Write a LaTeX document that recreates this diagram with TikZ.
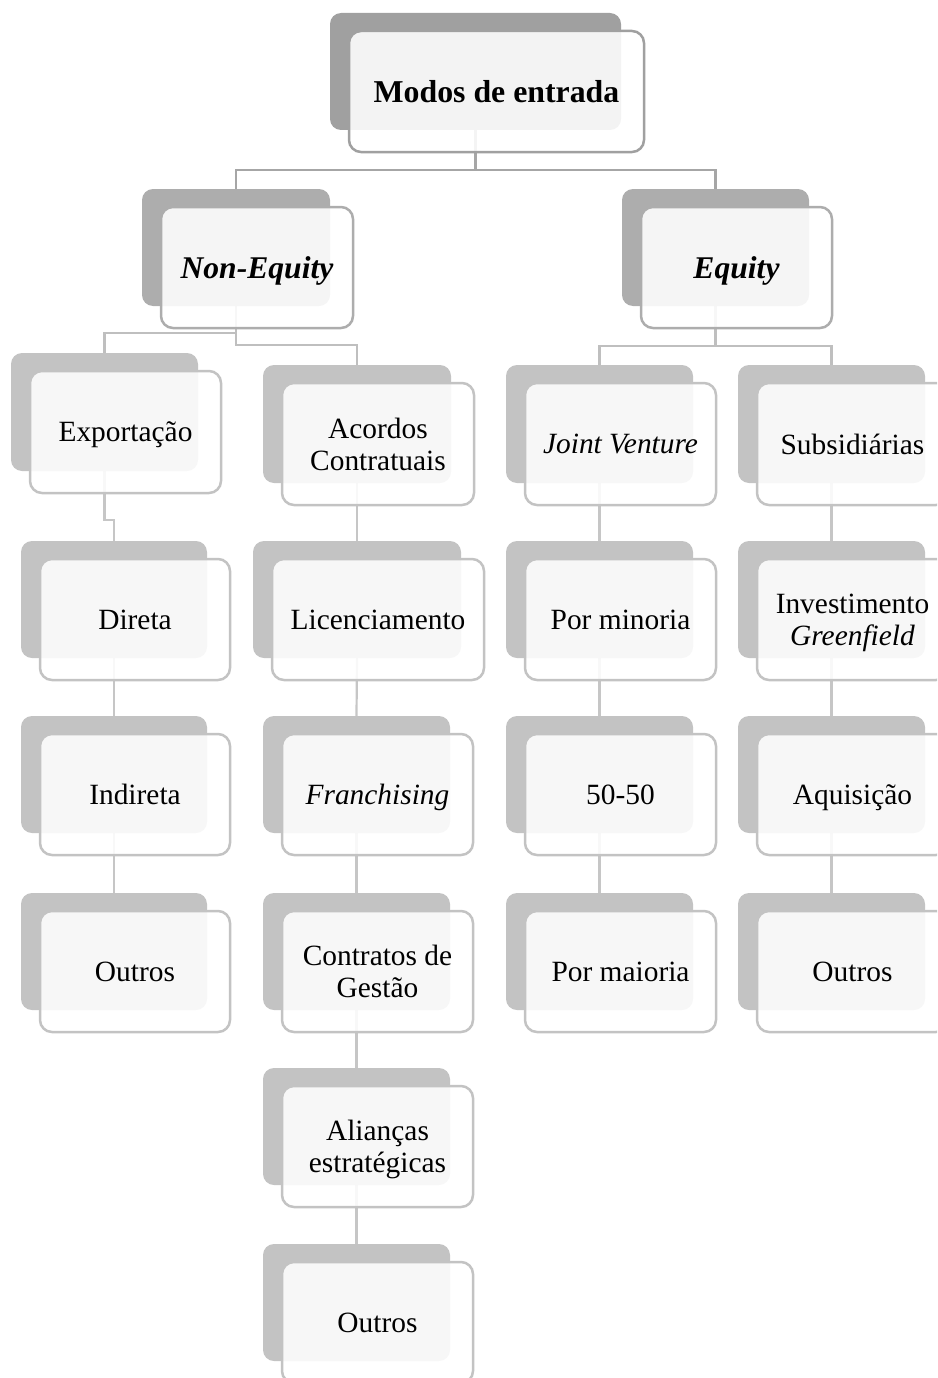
\documentclass[tikz,border=0pt]{standalone}
\usepackage{fontspec}
\setmainfont{Liberation Serif}
\pgfdeclarelayer{background}
\pgfsetlayers{background,main}
\definecolor{gA}{HTML}{A0A0A0}
\definecolor{gB}{HTML}{ADADAD}
\definecolor{gC}{HTML}{C3C3C3}
\definecolor{lnA}{HTML}{A6A6A6}
\definecolor{lnB}{HTML}{BFBFBF}
\definecolor{lnC}{HTML}{C6C6C6}
\tikzset{
  backbox/.style={rounded corners=11pt, inner sep=0pt, outer sep=0pt, draw=none, anchor=north west},
  frontbox/.style={rounded corners=12pt, inner sep=0pt, outer sep=0pt, fill=white, fill opacity=0.88, text opacity=1, line width=2.5pt, align=center, text depth=0pt, anchor=north west},
  backA/.style={backbox, fill=gA},
  backB/.style={backbox, fill=gB},
  backC/.style={backbox, fill=gC},
  frontA/.style={frontbox, draw=gA, font=\fontsize{31.8}{34}\selectfont\bfseries},
  frontB/.style={frontbox, draw=gB, font=\fontsize{31.6}{34}\selectfont\bfseries\itshape},
  frontC/.style={frontbox, draw=gC, font=\fontsize{29.4}{32}\selectfont},
  connA/.style={draw=lnA, line width=2.5pt},
  connB/.style={draw=lnB, line width=2.2pt},
  connC/.style={draw=lnC, line width=2.2pt},
}
% #1 name, #2 x, #3 y, #4 width, #5 height, #6 level letter
\newcommand\backpair[6]{%
  \node[back#6, minimum width=#4, minimum height=#5] (b#1) at (#2,#3) {};}
\newcommand\frontpair[6]{%
  \node[front#6, minimum width={#4+4}, minimum height={#5+4}] (f#1) at ([shift={(19pt,-18pt)}]b#1.north west) {#2};}
\begin{document}
\begin{tikzpicture}[x=1pt,y=-1pt]
\useasboundingbox (0,0) rectangle (937,1378);
\clip (0,0) rectangle (937,1378);
% back boxes
\backpair{Top}{330}{13}{291}{117}{A}
\backpair{NE}{142}{189}{188}{117}{B}
\backpair{Eq}{622}{189}{187}{117}{B}
\backpair{Exp}{11}{353}{187}{118}{C}
\backpair{Ac}{263}{365}{188}{118}{C}
\backpair{JV}{506}{365}{187}{118}{C}
\backpair{Sub}{738}{365}{187}{118}{C}
\backpair{Dir}{21}{541}{186}{117}{C}
\backpair{Lic}{253}{541}{208}{117}{C}
\backpair{Min}{506}{541}{187}{117}{C}
\backpair{Inv}{738}{541}{187}{117}{C}
\backpair{Ind}{21}{716}{186}{117}{C}
\backpair{Fra}{263}{716}{187}{117}{C}
\backpair{FF}{506}{716}{187}{117}{C}
\backpair{OutA}{21}{893}{186}{117}{C}
\backpair{Con}{263}{893}{187}{117}{C}
\backpair{Mai}{506}{893}{187}{117}{C}
\backpair{OutC}{738}{893}{187}{117}{C}
\backpair{Aqu}{738}{716}{187}{117}{C}
\backpair{Ali}{263}{1068}{187}{117}{C}
\backpair{OutB}{263}{1244}{187}{117}{C}
% connectors
\begin{pgfonlayer}{background}
\draw[connA] (bTop.south) -- ++(0,40) -| (bNE.north);
\draw[connA] (bTop.south) -- ++(0,40) -| (bEq.north);
\draw[connB] (bNE.south) -- ++(0,27) -| (bExp.north);
\draw[connB] (bNE.south) -- ++(0,39) -| (bAc.north);
\draw[connB] (bEq.south) -- ++(0,40) -| (bJV.north);
\draw[connB] (bEq.south) -- ++(0,40) -| (bSub.north);
\draw[connC] (bExp.south) -- ++(0,49) -| (bDir.north);
\draw[connC] (bDir.south) -- (bInd.north);
\draw[connC] (bInd.south) -- (bOutA.north);
\draw[connC] (bAc.south) -- (bLic.north);
\draw[connC] (bLic.south) -- (bFra.north);
\draw[connC] (bFra.south) -- (bCon.north);
\draw[connC] (bCon.south) -- (bAli.north);
\draw[connC] (bAli.south) -- (bOutB.north);
\draw[connC] (bJV.south) -- (bMin.north);
\draw[connC] (bMin.south) -- (bFF.north);
\draw[connC] (bFF.south) -- (bMai.north);
\draw[connC] (bSub.south) -- (bInv.north);
\draw[connC] (bInv.south) -- (bAqu.north);
\draw[connC] (bAqu.south) -- (bOutC.north);
\end{pgfonlayer}
% front boxes
\frontpair{Top}{Modos de entrada}{0}{291}{117}{A}
\frontpair{NE}{Non-Equity}{0}{188}{117}{B}
\frontpair{Eq}{Equity}{0}{187}{117}{B}
\frontpair{Exp}{Exportação}{0}{187}{118}{C}
\frontpair{Ac}{Acordos\\Contratuais}{0}{188}{118}{C}
\frontpair{JV}{\textit{Joint Venture}}{0}{187}{118}{C}
\frontpair{Sub}{Subsidiárias}{0}{187}{118}{C}
\frontpair{Dir}{Direta}{0}{186}{117}{C}
\frontpair{Lic}{Licenciamento}{0}{208}{117}{C}
\frontpair{Min}{Por minoria}{0}{187}{117}{C}
\frontpair{Inv}{Investimento\\\textit{Greenfield}}{0}{187}{117}{C}
\frontpair{Ind}{Indireta}{0}{186}{117}{C}
\frontpair{Fra}{\textit{Franchising}}{0}{187}{117}{C}
\frontpair{FF}{50-50}{0}{187}{117}{C}
\frontpair{Aqu}{Aquisição}{0}{187}{117}{C}
\frontpair{OutA}{Outros}{0}{186}{117}{C}
\frontpair{Con}{Contratos de\\Gestão}{0}{187}{117}{C}
\frontpair{Mai}{Por maioria}{0}{187}{117}{C}
\frontpair{OutC}{Outros}{0}{187}{117}{C}
\frontpair{Ali}{Alianças\\estratégicas}{0}{187}{117}{C}
\frontpair{OutB}{Outros}{0}{187}{117}{C}
\end{tikzpicture}
\end{document}
